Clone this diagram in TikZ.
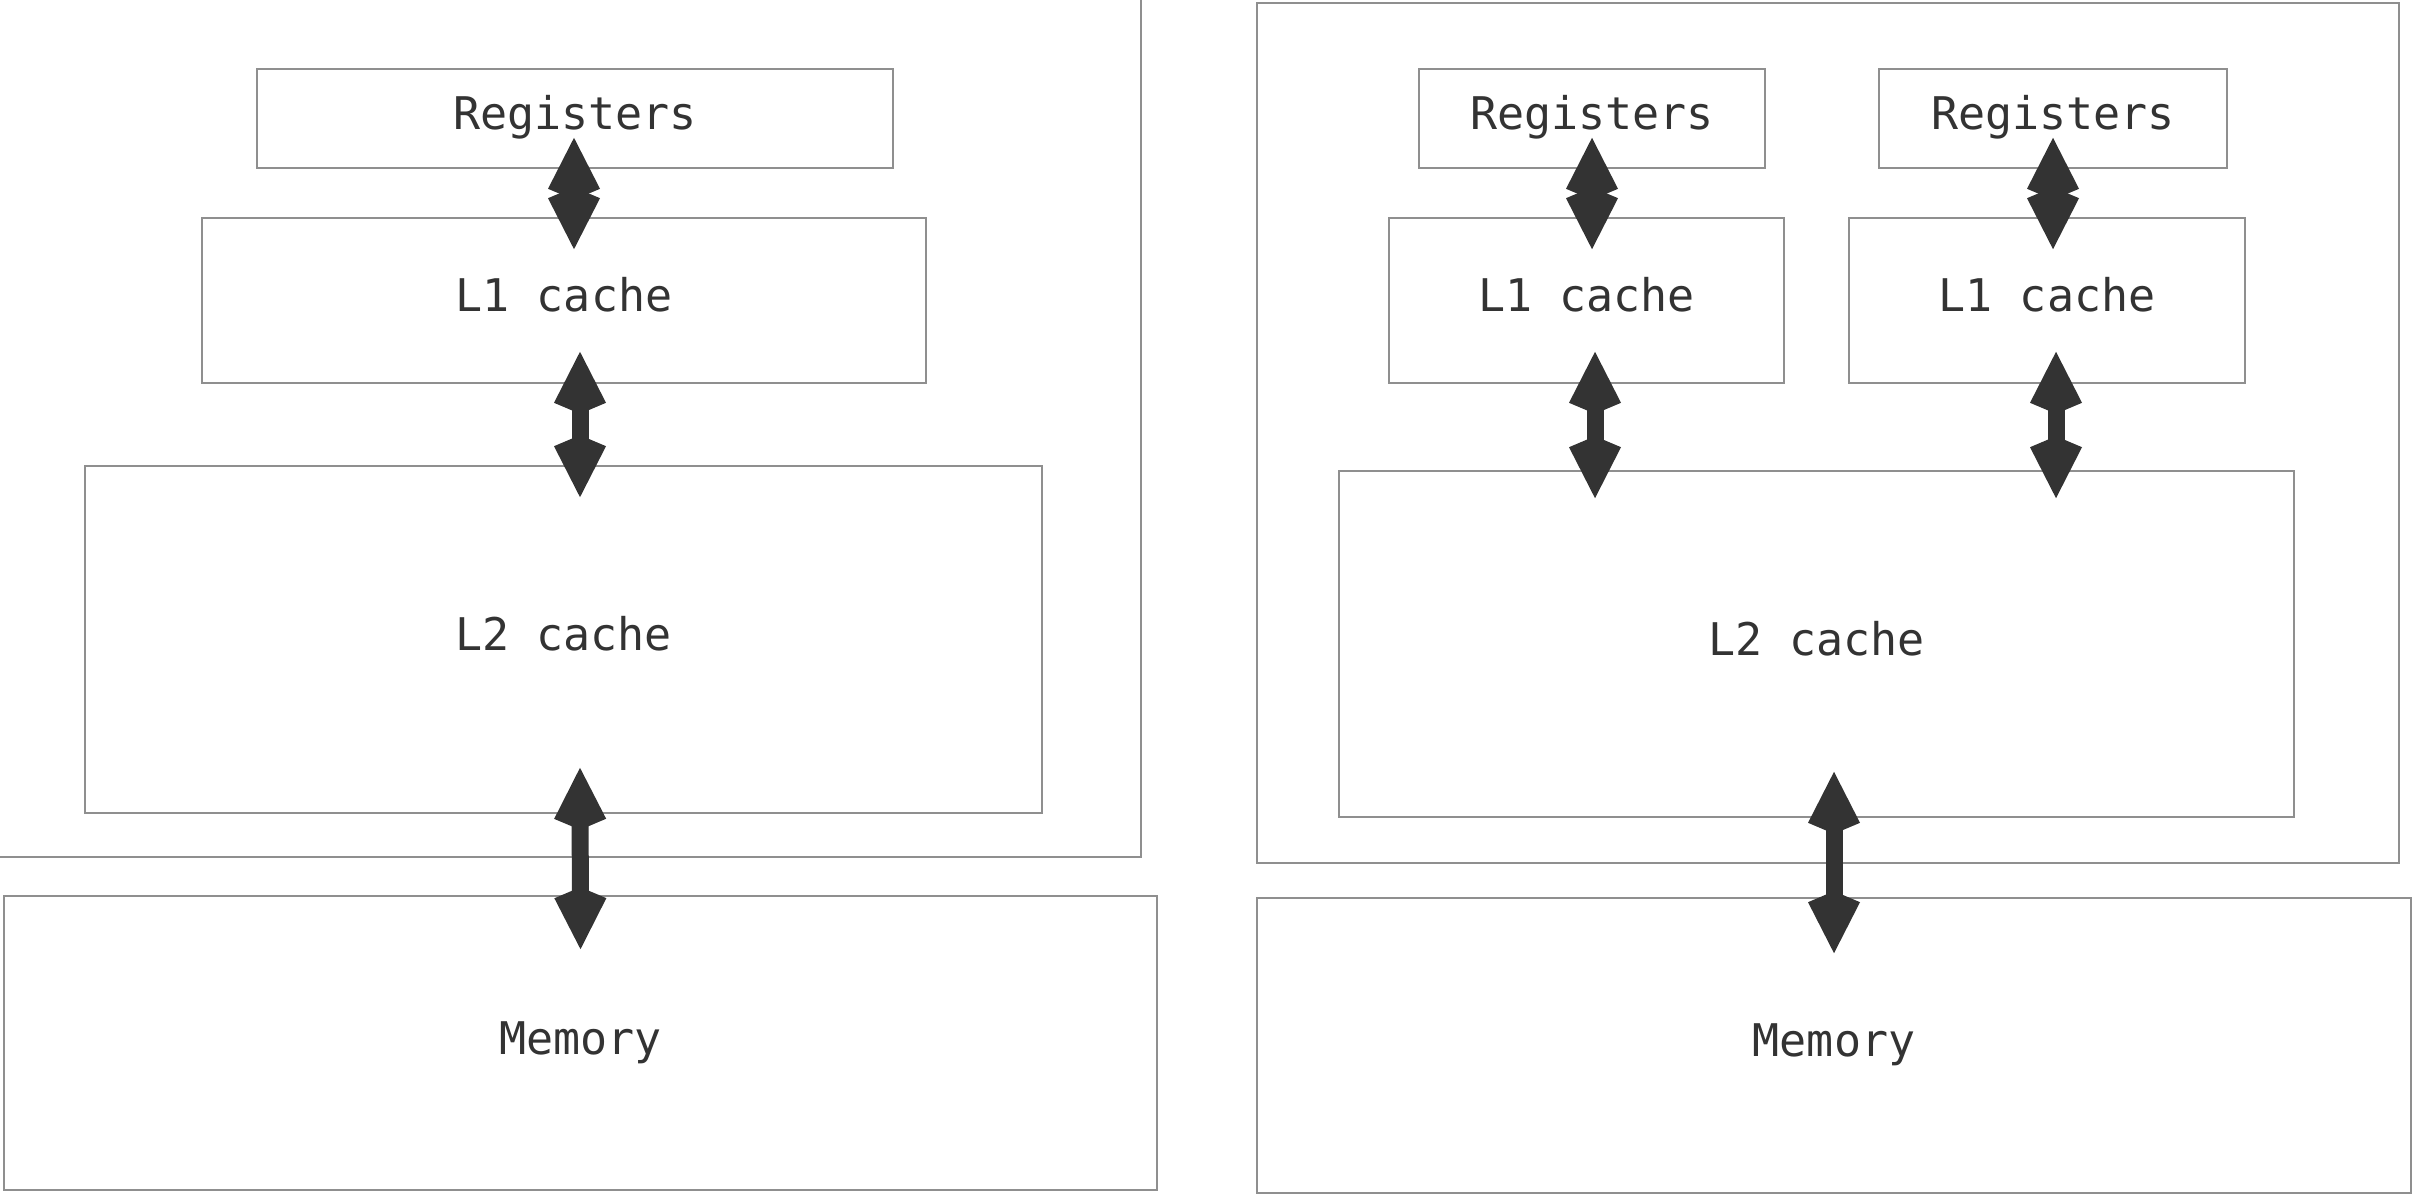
\documentclass[tikz,border=0pt]{standalone}
\usepackage{fontspec}
\setmonofont{DejaVu Sans Mono}
\usetikzlibrary{arrows.meta}
\definecolor{boxline}{HTML}{8F8F8F}
\definecolor{ink}{HTML}{333333}
\begin{document}
\begin{tikzpicture}[x=1pt,y=-1pt,
  box/.style={draw=boxline, line width=1.6pt, rectangle, inner sep=0pt,
    font=\ttfamily\fontsize{45}{54}\selectfont, text=ink,
    text height=34pt, text depth=12pt},
  frame/.style={draw=boxline, line width=1.6pt},
  arr/.style={draw=ink, line width=17pt,
    {Kite[width=52pt,length=62pt,inset=11pt]}-{Kite[width=52pt,length=62pt,inset=11pt]}}]
\useasboundingbox (0,0) rectangle (2414,1196);
\fill[white] (0,0) rectangle (2414,1196);

% ---------- left panel ----------
\draw[frame] (-5,-5) rectangle (1141,857);
\node[box, minimum width=636pt, minimum height=99pt] (regA) at (575,118.5) {Registers};
\node[box, minimum width=724pt, minimum height=165pt] (l1A) at (564,300.5) {L1 cache};
\node[box, minimum width=957pt, minimum height=347pt] (l2A) at (563.5,639.5) {L2 cache};
\node[box, minimum width=1153pt, minimum height=294pt] (memA) at (580.5,1043) {Memory};

\draw[arr] ([xshift=-1pt,yshift=31pt]regA.south) -- ([xshift=10pt,yshift=-32pt]l1A.north);
\draw[arr] ([xshift=16pt,yshift=32pt]l1A.south) -- ([xshift=16.5pt,yshift=-32pt]l2A.north);
\draw[arr] ([xshift=16.5pt,yshift=46pt]l2A.south) -- ([yshift=-54pt]memA.north);

% ---------- right panel ----------
\draw[frame] (1257,3) rectangle (2399,863);
\node[box, minimum width=346pt, minimum height=99pt] (regB1) at (1592,118.5) {Registers};
\node[box, minimum width=348pt, minimum height=99pt] (regB2) at (2053,118.5) {Registers};
\node[box, minimum width=395pt, minimum height=165pt] (l1B1) at (1586.5,300.5) {L1 cache};
\node[box, minimum width=396pt, minimum height=165pt] (l1B2) at (2047,300.5) {L1 cache};
\node[box, minimum width=955pt, minimum height=346pt] (l2B) at (1816.5,644) {L2 cache};
\node[box, minimum width=1154pt, minimum height=295pt] (memB) at (1834,1045.5) {Memory};

\draw[arr] ([yshift=31pt]regB1.south) -- ([xshift=5.5pt,yshift=-32pt]l1B1.north);
\draw[arr] ([yshift=31pt]regB2.south) -- ([xshift=6pt,yshift=-32pt]l1B2.north);
\draw[arr] ([xshift=8.5pt,yshift=32pt]l1B1.south) -- ([xshift=-221.5pt,yshift=-28pt]l2B.north);
\draw[arr] ([xshift=9pt,yshift=32pt]l1B2.south) -- ([xshift=239.5pt,yshift=-28pt]l2B.north);
\draw[arr] ([xshift=17.5pt,yshift=46pt]l2B.south) -- ([yshift=-56pt]memB.north);
\end{tikzpicture}
\end{document}
